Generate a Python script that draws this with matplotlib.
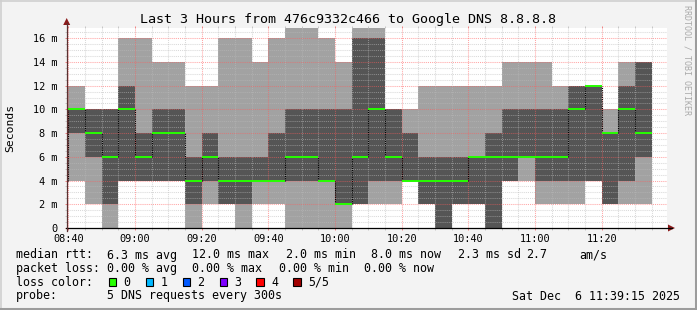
import matplotlib
matplotlib.use("Agg")
import matplotlib.pyplot as plt
from matplotlib.patches import Rectangle, Polygon
from matplotlib.lines import Line2D
import numpy as np

# ---------------- data (ms) ----------------
# 5-minute steps; step -1 starts at 08:35 (partially visible)
step_index = list(range(-1, 35))
ping_min = [2, 4, 2, 0, 4, 4, 4, 4, 0, 2, 2, 0, 2, 2, 0, 0, 0, 0, 2, 2, 2, 4, 2, 0, 2, 2, 0, 4, 4, 2, 2, 2, 4, 2, 2, 2]
ping_lo  = [4, 8, 6, 2, 4, 4, 4, 4, 2, 4, 2, 2, 4, 4, 4, 4, 4, 2, 2, 4, 4, 4, 2, 0, 2, 2, 0, 4, 6, 4, 4, 4, 4, 2, 4, 6]
median   = [4, 10, 8, 6, 10, 6, 8, 8, 4, 6, 4, 4, 4, 4, 6, 6, 4, 2, 6, 10, 6, 4, 4, 4, 4, 6, 6, 6, 6, 6, 6, 10, 12, 8, 10, 8]
ping_hi  = [4, 10, 10, 10, 12, 8, 10, 10, 6, 8, 6, 6, 6, 8, 10, 10, 10, 10, 16, 16, 10, 8, 6, 6, 6, 6, 8, 10, 10, 10, 10, 12, 12, 8, 12, 14]
ping_max = [12, 12, 10, 10, 16, 16, 14, 14, 12, 12, 16, 16, 14, 16, 17, 17, 16, 14, 17, 17, 10, 10, 12, 12, 12, 12, 12, 14, 14, 14, 12, 12, 12, 10, 14, 14]

step_minutes = 5
x_tick_labels = ["08:40", "09:00", "09:20", "09:40", "10:00", "10:20", "10:40", "11:00", "11:20"]
y_tick_values = [0, 2, 4, 6, 8, 10, 12, 14, 16]

title = "Last 3 Hours from 476c9332c466 to Google DNS 8.8.8.8"

# ---------------- figure ----------------
W, H = 697, 310
BG = "#f3f3f3"
LIGHT = "#a2a2a2"
DARK = "#555555"
GREEN = "#26ff00"
MONO = "DejaVu Sans Mono"

fig = plt.figure(figsize=(W / 100, H / 100), dpi=100, facecolor=BG)

def fx(x):
    return x / W

def fy(y):
    return 1 - y / H

ax_l, ax_r, ax_t, ax_b = 67, 667, 28, 228
ax = fig.add_axes([fx(ax_l), fy(ax_b), (ax_r - ax_l) / W, (ax_b - ax_t) / H])
ax.set_facecolor("white")
px_per_min = 3.334
x0 = -1.3 / px_per_min
ax.set_xlim(x0, x0 + (ax_r - ax_l) / px_per_min)
ax.set_ylim(0, (ax_b - ax_t) / 11.86)

xs = np.array(step_index) * step_minutes
pmin = np.array(ping_min, float)
plo = np.array(ping_lo, float)
pmed = np.array(median, float)
phi = np.array(ping_hi, float)
pmax = np.array(ping_max, float)

# smoke
ax.bar(xs, pmax - pmin, bottom=pmin, width=step_minutes, align="edge",
       color=LIGHT, linewidth=0, zorder=1)
ax.bar(xs, phi - plo, bottom=plo, width=step_minutes, align="edge",
       color=DARK, linewidth=0, zorder=2)

# grid (semi-transparent like rrdtool)
minor_c = (0.73, 0.73, 0.73, 0.55)
major_c = (1.0, 0.36, 0.36, 0.55)
for v in np.arange(0, 17.0, 0.5):
    if v % 2 == 0:
        continue
    ax.axhline(v, color=minor_c, lw=0.75, ls=(0, (1, 1)), zorder=3)
for v in y_tick_values[1:]:
    ax.axhline(v, color=major_c, lw=0.75, ls=(0, (1, 1)), zorder=3)
for m in np.arange(0, 180, step_minutes):
    if m % 20 == 0:
        ax.axvline(m, color=major_c, lw=0.75, ls=(0, (1, 1)), zorder=3)
    else:
        ax.axvline(m, color=minor_c, lw=0.75, ls=(0, (1, 1)), zorder=3)

# median: vertical transitions (dotted black) and green steps
for i in range(1, len(xs)):
    if pmed[i] != pmed[i - 1]:
        ax.vlines(xs[i], min(pmed[i], pmed[i - 1]), max(pmed[i], pmed[i - 1]),
                  color="black", lw=0.8, ls=(0, (1, 1)), zorder=4)
ax.hlines(pmed, xs, xs + step_minutes, color=GREEN, lw=1.4, zorder=5)

# ticks
ax.set_xticks(np.arange(0, 180, 20))
ax.set_xticks(np.arange(0, 180, 5), minor=True)
ax.set_xticklabels(x_tick_labels, fontfamily=MONO, fontsize=7.4)
ax.set_yticks(y_tick_values)
ax.set_yticks(np.arange(0, 17, 0.5), minor=True)
ax.set_yticklabels(["0"] + [f"{v} m" for v in y_tick_values[1:]], fontfamily=MONO, fontsize=7.4)
ax.tick_params(axis="x", which="both", top=True, bottom=True, direction="out", length=1.6, width=0.7)
ax.tick_params(axis="y", which="both", left=True, right=False, direction="out", length=1.6, width=0.7)
ax.tick_params(which="major", color="#f08080")
ax.tick_params(which="minor", color="#c4c4c4")
ax.tick_params(axis="x", which="major", pad=3)
ax.tick_params(axis="y", which="major", pad=5.5)
for s in ax.spines.values():
    s.set_visible(False)

# axis lines and arrows
fig.add_artist(Line2D([fx(ax_l - 1), fx(672)], [fy(ax_b), fy(ax_b)], color="black", lw=0.9))
fig.add_artist(Line2D([fx(ax_l - 0.3), fx(ax_l - 0.3)], [fy(ax_b + 3), fy(23)], color="#5a3030", lw=0.9))
fig.add_artist(Polygon([[fx(668), fy(ax_b - 3.5)], [fx(668), fy(ax_b + 3.5)], [fx(675), fy(ax_b)]],
                       closed=True, color="#8b1a1a", lw=0))
fig.add_artist(Polygon([[fx(ax_l - 3.8), fy(25)], [fx(ax_l + 3.2), fy(25)], [fx(ax_l - 0.3), fy(18)]],
                       closed=True, color="#8b1a1a", lw=0))

# title, labels, watermark
fig.text(0.5, fy(19), title, ha="center", va="center", fontfamily=MONO, fontsize=9.6)
fig.text(fx(10), fy(128), "Seconds", rotation=90, ha="center", va="center",
         fontfamily=MONO, fontsize=8.2)
fig.text(fx(687), fy(60), "RRDTOOL / TOBI OETIKER", rotation=-90, ha="center", va="center",
         fontfamily=MONO, fontsize=6.0, color="#aaaaaa")

# legend lines
LF = 8.4
def t(x, y, s, **kw):
    fig.text(fx(x), fy(y), s, ha=kw.pop("ha", "left"), va="center", fontfamily=MONO,
             fontsize=LF, **kw)

y1, y2, y3, y4 = 255, 268.5, 282, 296
t(16, y1, "median rtt:")
t(106.7, y1, "6.3 ms avg")
t(192, y1, "12.0 ms max")
t(285.8, y1, "2.0 ms min")
t(371, y1, "8.0 ms now")
t(457.8, y1, "2.3 ms sd")
t(526.5, y1, "2.7")
t(579, y1, "am/s")

t(16, y2, "packet loss:")
t(106.7, y2, "0.00 % avg")
t(192, y2, "0.00 % max")
t(279, y2, "0.00 % min")
t(364.4, y2, "0.00 % now")

t(16, y3, "loss color:")
loss_labels = ["0", "1", "2", "3", "4", "5/5"]
loss_colors = ["#26ff00", "#00b8ff", "#0059ff", "#7e00ff", "#ff0000", "#a10000"]
box_x = [108.9, 145.8, 182.7, 219.6, 256.4, 293.2]
for bx, lab, col in zip(box_x, loss_labels, loss_colors):
    fig.add_artist(Rectangle((fx(bx), fy(y3 + 4)), 7.5 / W, 8 / H, facecolor=col,
                             edgecolor="black", lw=0.8))
    t(bx + 14.7, y3, lab)

t(16, y4, "probe:")
t(106.7, y4, "5 DNS requests every 300s")
t(680, y4, "Sat Dec  6 11:39:15 2025", ha="right")

# 3D frame
fig.add_artist(Line2D([0, 1], [fy(0.5), fy(0.5)], color="#d0d0d0", lw=1.2))
fig.add_artist(Line2D([fx(0.5), fx(0.5)], [0, 1], color="#d0d0d0", lw=1.2))
fig.add_artist(Line2D([fx(696), fx(696)], [0, 1], color="#9c9c9c", lw=2.2))
fig.add_artist(Line2D([0, 1], [fy(309), fy(309)], color="#9c9c9c", lw=2.2))

fig.savefig("out.png", dpi=100, facecolor=BG)
